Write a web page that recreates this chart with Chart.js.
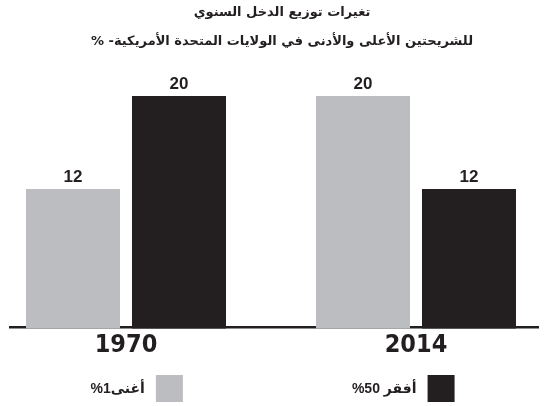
<!DOCTYPE html>
<html lang="ar">
<head>
<meta charset="utf-8">
<script src="https://cdn.jsdelivr.net/npm/chart.js@4"></script>
<style>
  html, body { margin: 0; padding: 0; background: #ffffff; }
  #wrap { width: 549px; height: 406px; position: relative; }
</style>
</head>
<body>
<div id="wrap"><canvas id="incomeChart" dir="rtl"></canvas></div>
<script>
// Annual income distribution: top 1% vs bottom 50% in the US
const years = ['1970', '2014'];
const richest1 = [12, 20];
const poorest50 = [20, 12];
const seriesLabels = ['أغنى1%', 'أفقر 50%'];
const titleLines = [
  'تغيرات توزيع الدخل السنوي',
  'للشريحتين الأعلى والأدنى في الولايات المتحدة الأمريكية- %'
];

const INK = '#231f20';
const GREY = '#bcbdc0';

// baseline rule, wider than the plot area, under the bars
const baseLine = {
  id: 'baseLine',
  beforeDatasetsDraw(chart) {
    const ctx = chart.ctx;
    const y = chart.chartArea.bottom;
    ctx.save();
    ctx.strokeStyle = INK;
    ctx.lineWidth = 2.5;
    ctx.beginPath();
    ctx.moveTo(9, y - 1.25);
    ctx.lineTo(539, y - 1.25);
    ctx.stroke();
    ctx.restore();
  }
};

// numbers above each bar
const valueLabels = {
  id: 'valueLabels',
  afterDatasetsDraw(chart) {
    const ctx = chart.ctx;
    ctx.save();
    ctx.fillStyle = INK;
    ctx.font = 'bold 17px "Liberation Sans", Arial, sans-serif';
    ctx.textAlign = 'center';
    ctx.textBaseline = 'alphabetic';
    chart.data.datasets.forEach((ds, i) => {
      chart.getDatasetMeta(i).data.forEach((bar, j) => {
        ctx.fillText(String(ds.data[j]), bar.x, bar.y - 7);
      });
    });
    ctx.restore();
  }
};

// legend at the bottom, box to the right of the text (RTL)
const rtlLegend = {
  id: 'rtlLegend',
  afterDraw(chart) {
    const ctx = chart.ctx;
    const box = 27, gap = 11, between = 169;
    ctx.save();
    ctx.font = 'bold 14px "Liberation Sans", "DejaVu Sans", sans-serif';
    ctx.direction = 'rtl';
    const items = chart.data.datasets.map(ds => ({
      text: ds.label,
      color: ds.backgroundColor,
      w: ctx.measureText(ds.label).width
    }));
    let total = 0;
    items.forEach((it, i) => { total += it.w + gap + box + (i ? between : 0); });
    let x = (chart.width - total) / 2 - 2;
    const top = 375;
    items.forEach(it => {
      ctx.fillStyle = INK;
      ctx.textAlign = 'right';
      ctx.textBaseline = 'middle';
      ctx.fillText(it.text, x + it.w, top + box / 2 + 1);
      x += it.w + gap;
      ctx.fillStyle = it.color;
      ctx.fillRect(x, top, box, box);
      x += box + between;
    });
    ctx.restore();
  }
};

new Chart(document.getElementById('incomeChart'), {
  type: 'bar',
  data: {
    labels: years,
    datasets: [
      { label: seriesLabels[0], data: richest1, backgroundColor: GREY, clip: false },
      { label: seriesLabels[1], data: poorest50, backgroundColor: INK, clip: false }
    ]
  },
  options: {
    responsive: true,
    maintainAspectRatio: false,
    animation: false,
    categoryPercentage: 0.731,
    barPercentage: 0.887,
    layout: { padding: { left: 15, right: 0, top: 0, bottom: 44.5 } },
    plugins: {
      legend: { display: false },
      tooltip: { enabled: false },
      title: {
        display: true,
        text: titleLines,
        color: INK,
        font: { family: '"DejaVu Sans", sans-serif', size: 13, weight: 'bold', lineHeight: '29px' },
        padding: { top: -2, bottom: 40 }
      }
    },
    scales: {
      x: {
        offset: false,
        grid: { display: false, drawTicks: false },
        border: { display: false },
        ticks: {
          color: INK,
          padding: 4,
          font: { family: '"Liberation Sans Narrow", "DejaVu Sans Condensed", sans-serif', size: 25, weight: 'bold', lineHeight: 1 }
        }
      },
      y: {
        min: 0,
        max: 20,
        position: 'left',
        grid: { display: false },
        border: { display: false },
        ticks: { display: false },
        afterFit(scale) { scale.width = 111; }
      },
      yRight: {
        type: 'linear',
        position: 'right',
        grid: { display: false },
        border: { display: false },
        ticks: { display: false },
        afterFit(scale) { scale.width = 133; }
      }
    }
  },
  plugins: [baseLine, valueLabels, rtlLegend]
});
</script>
</body>
</html>
